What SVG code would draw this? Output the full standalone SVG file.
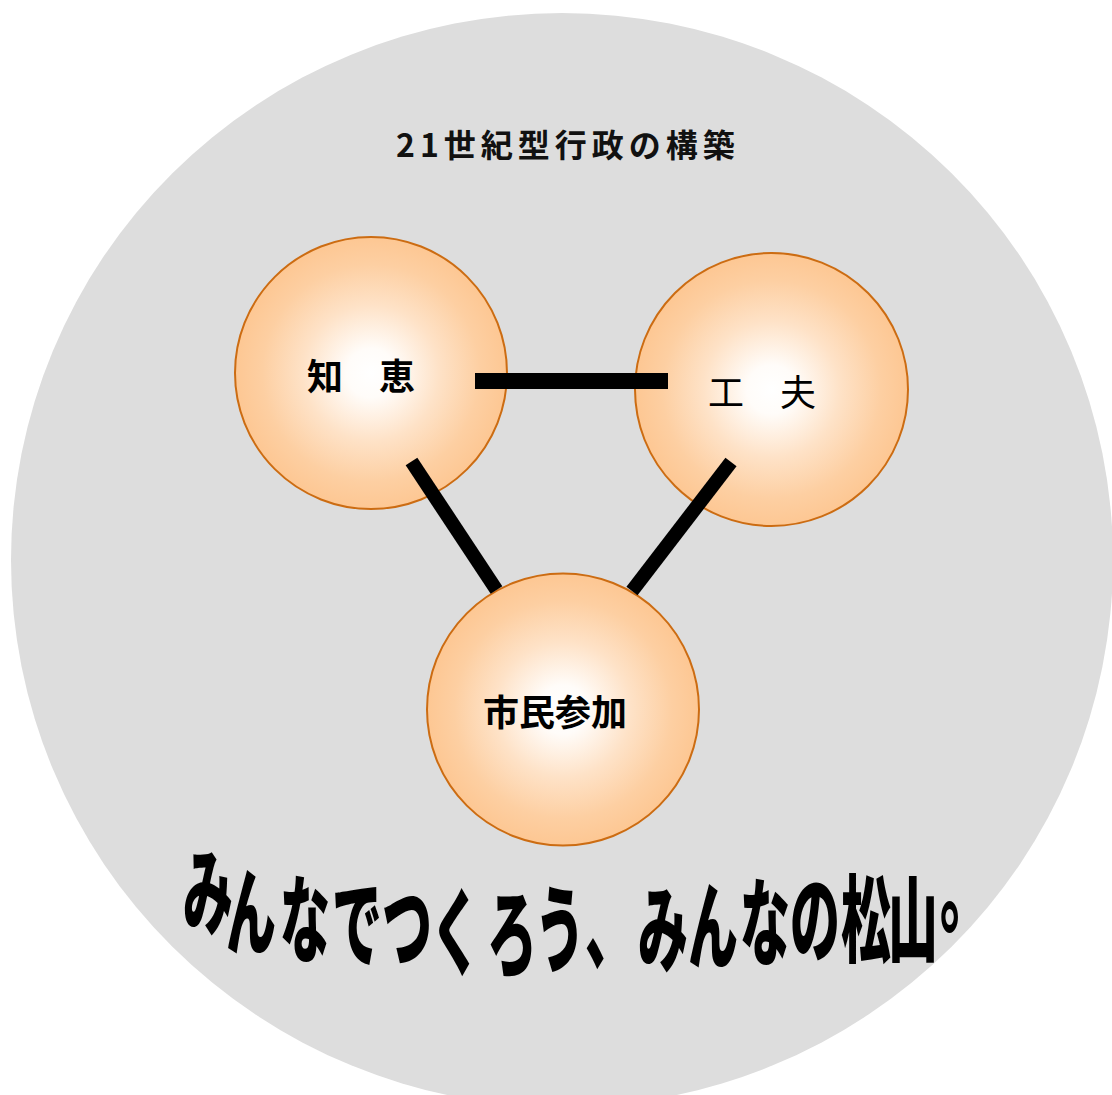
<svg xmlns="http://www.w3.org/2000/svg" width="1112" height="1095" viewBox="0 0 1112 1095">
  <defs>
    <radialGradient id="peach" cx="50%" cy="50%" r="50%">
      <stop offset="0" stop-color="#ffffff"/>
      <stop offset="0.18" stop-color="#fffcf9"/>
      <stop offset="0.5" stop-color="#fee2c7"/>
      <stop offset="0.8" stop-color="#fdcfa2"/>
      <stop offset="1" stop-color="#fdc793"/>
    </radialGradient>
  </defs>
  <style>
    .bubble { fill: url(#peach); stroke: #cc6c12; stroke-width: 2; }
    .label { font-family: "Noto Sans CJK JP", "Noto Sans", sans-serif; font-size: 36px; fill: #000; text-anchor: middle; }
    .bold { font-weight: bold; }
    .title { font-family: "Noto Sans CJK JP", "Noto Sans", sans-serif; font-size: 32px; font-weight: bold; letter-spacing: 5px; fill: #111; }
    .slogan { font-family: "Noto Sans CJK JP", sans-serif; font-size: 50px; font-weight: 900; fill: #000; text-anchor: middle; }
    .link { stroke: #000; fill: none; }
  </style>

  <g id="background">
    <ellipse cx="562" cy="560" rx="551" ry="547" fill="#dddddd"/>
  </g>

  <g id="title">
    <text class="title" x="396" y="157">21世紀型行政の構築</text>
  </g>

  <g id="node-chie">
    <circle class="bubble" cx="371" cy="373" r="136"/>
    <text class="label bold" x="361" y="390">知　恵</text>
  </g>

  <g id="node-kufu">
    <circle class="bubble" cx="771.5" cy="389.5" r="136.5"/>
    <text class="label" x="762" y="406">工　夫</text>
  </g>

  <g id="node-shimin">
    <circle class="bubble" cx="563" cy="709.5" r="136"/>
    <text class="label bold" x="555" y="726">市民参加</text>
  </g>

  <g id="connectors">
    <rect x="475" y="373" width="193" height="16" fill="#000"/>
    <line class="link" x1="411.5" y1="461.5" x2="496.5" y2="590" stroke-width="14"/>
    <line class="link" x1="731" y1="462" x2="632" y2="591" stroke-width="14"/>
  </g>

  <g id="slogan" transform="scale(1,1.9)">
    <text class="slogan"
      x="208 251 305 357 407 456 512 560 610 663 713 765 815 866 913 965"
      y="488.4 498.9 502.6 505.3 506.3 509.5 510.5 507.9 506.3 507.9 506.3 504.2 502.6 502.6 502.6 486.8">みんなでつくろう、みんなの松山。</text>
  </g>
</svg>
